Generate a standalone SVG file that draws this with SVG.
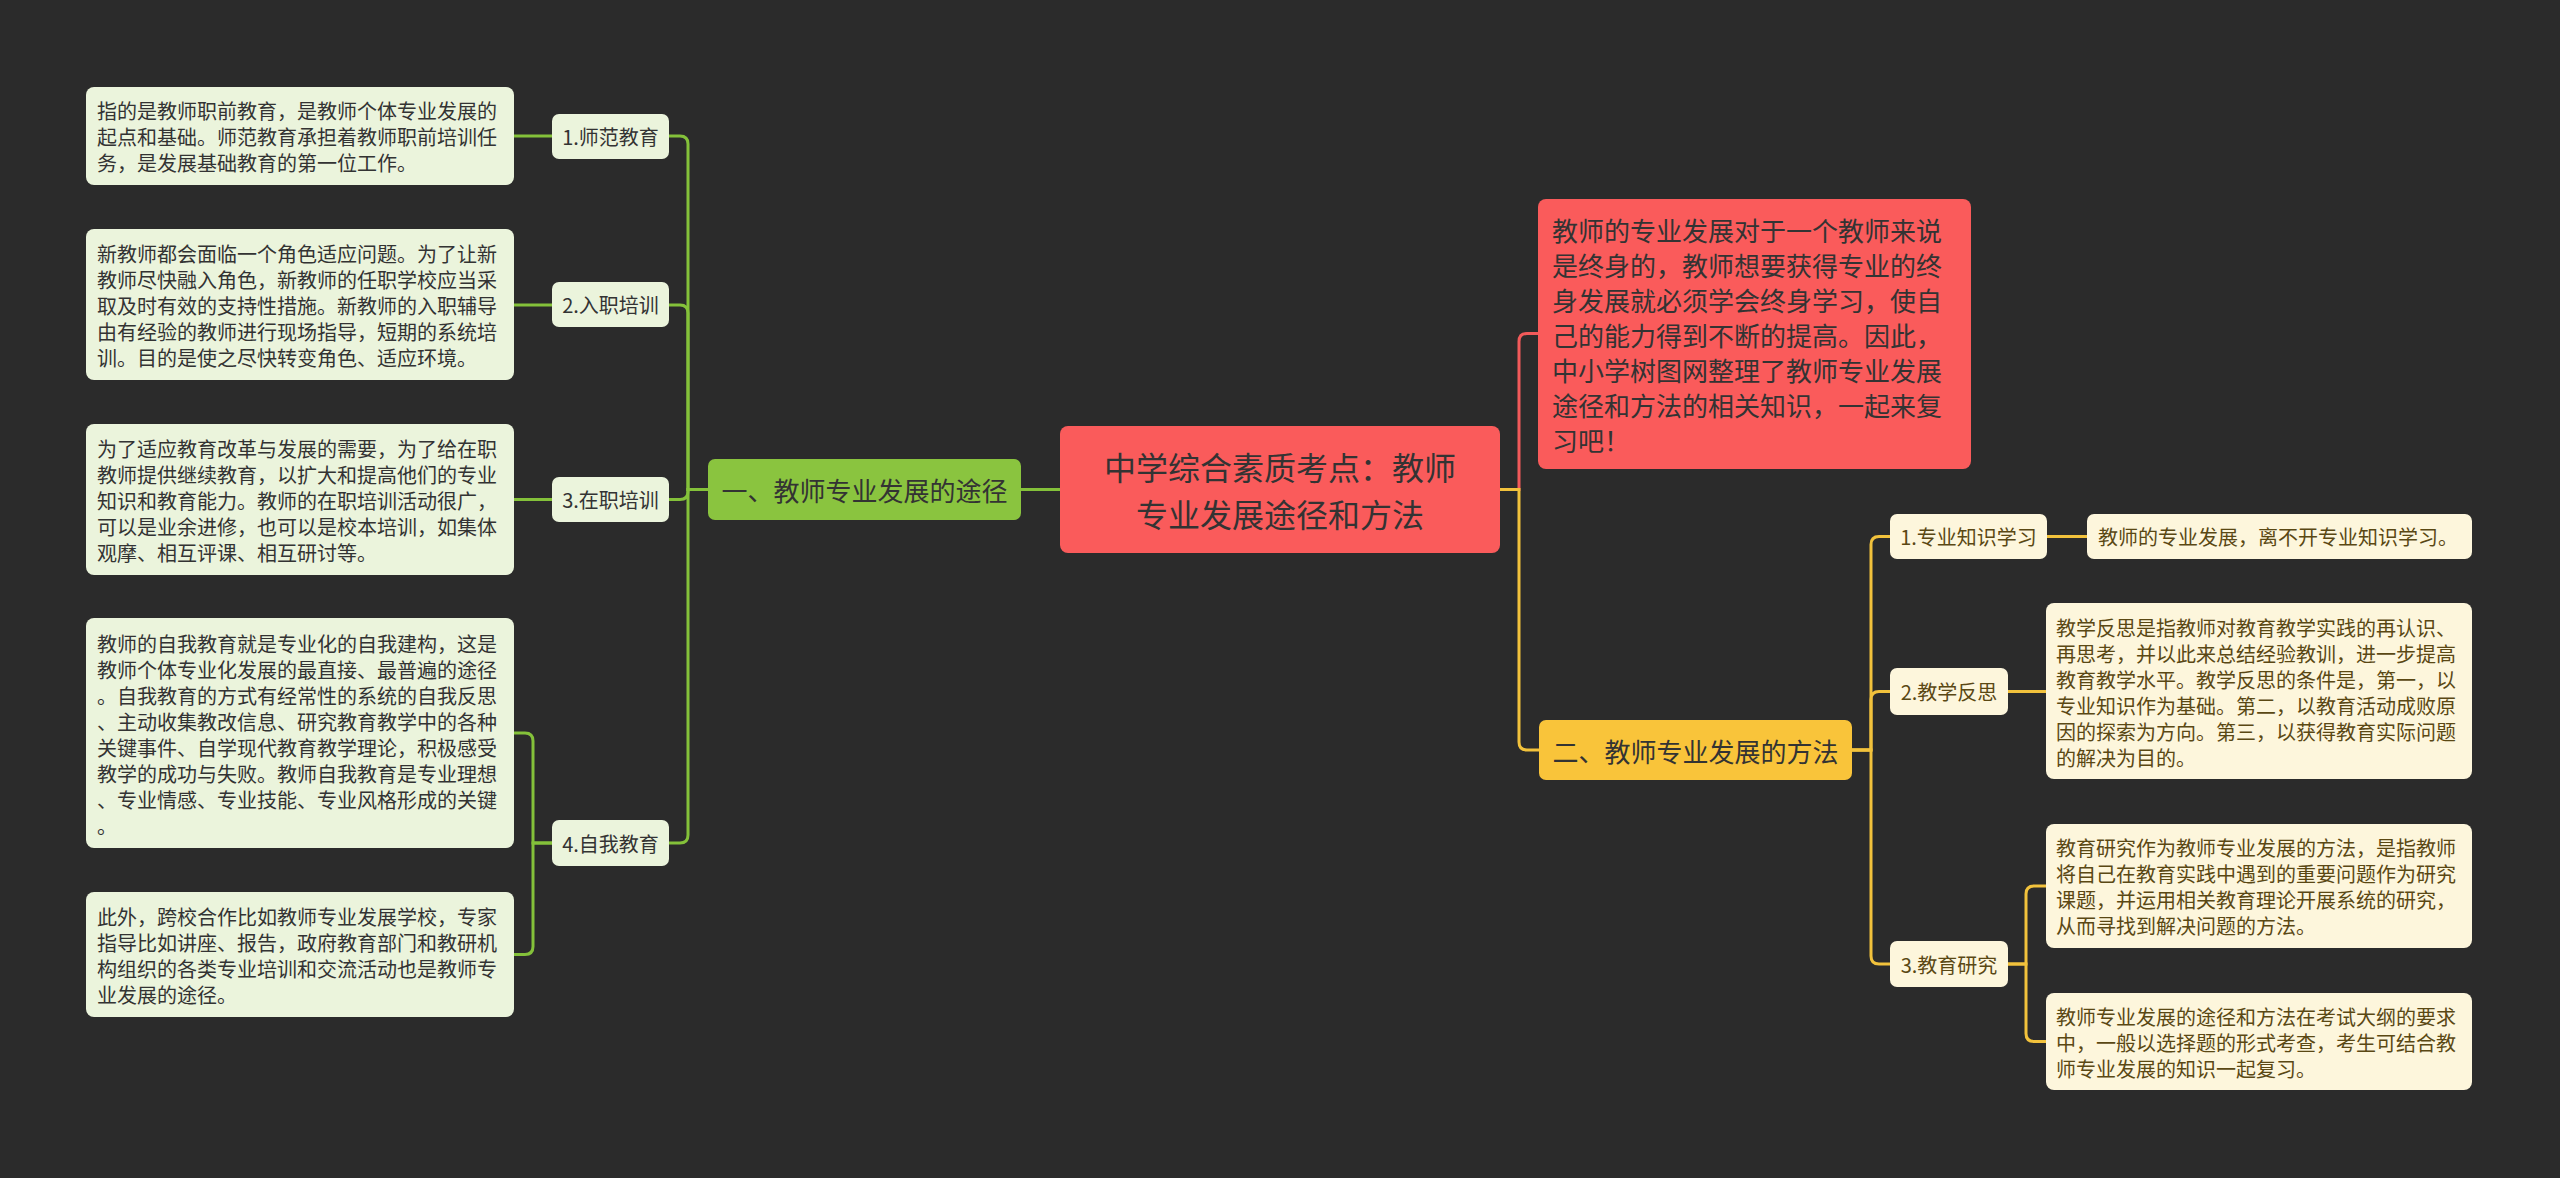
<svg xmlns="http://www.w3.org/2000/svg" width="2560" height="1178" viewBox="0 0 2560 1178">
<style>
text{font-family:"Noto Sans CJK SC","Noto Sans",sans-serif;dominant-baseline:central}
.lg{fill:#ebf4dc}
.ly{fill:#fdf6dc}
.t{font-size:20px;fill:#333}
.ty{font-size:20px;fill:#5a4814}
.c{text-anchor:middle}
.big{font-size:26px;fill:#333}
.cg{stroke:#84c13a;stroke-width:3;fill:none}
.cy{stroke:#f2c23c;stroke-width:3;fill:none}
.cr{stroke:#f25a5a;stroke-width:3;fill:none}
</style>
<rect width="2560" height="1178" fill="#2b2b2b"/>
<g id="connectors">
  <path class="cg" d="M1060 489.5H1021"/>
  <path class="cg" d="M708 489.5H688V144Q688 136 680 136H669"/>
  <path class="cg" d="M708 489.5H688V313Q688 305 680 305H669"/>
  <path class="cg" d="M708 489.5H688V491.5Q688 499.5 680 499.5H669"/>
  <path class="cg" d="M708 489.5H688V835Q688 843 680 843H669"/>
  <path class="cg" d="M552 136H514"/>
  <path class="cg" d="M552 305H514"/>
  <path class="cg" d="M552 499.5H514"/>
  <path class="cg" d="M552 843H533V741Q533 733 525 733H514"/>
  <path class="cg" d="M552 843H533V946.5Q533 954.5 525 954.5H514"/>
  <path class="cr" d="M1500 489.5H1519V341.5Q1519 333.5 1527 333.5H1538"/>
  <path class="cy" d="M1500 489.5H1519V742Q1519 750 1527 750H1539"/>
  <path class="cy" d="M1852 750H1871V544.5Q1871 536.5 1879 536.5H1890"/>
  <path class="cy" d="M1852 750H1871V699.5Q1871 691.5 1879 691.5H1890"/>
  <path class="cy" d="M1852 750H1871V956Q1871 964 1879 964H1890"/>
  <path class="cy" d="M2047 536.5H2087"/>
  <path class="cy" d="M2008 691.5H2046"/>
  <path class="cy" d="M2008 964H2026V894Q2026 886 2034 886H2046"/>
  <path class="cy" d="M2008 964H2026V1033.5Q2026 1041.5 2034 1041.5H2046"/>
</g>
<g id="root">
  <rect x="1060" y="426" width="440" height="127" rx="8" fill="#fa5b5b"/>
  <text class="c" font-size="32" fill="#333"><tspan x="1280" y="466">中学综合素质考点：教师</tspan><tspan x="1280" y="513">专业发展途径和方法</tspan></text>
</g>
<g id="intro">
  <rect x="1538" y="199" width="433" height="270" rx="8" fill="#fa5b5b"/>
  <text x="1552" font-size="26" fill="#333"><tspan x="1552" y="229">教师的专业发展对于一个教师来说</tspan><tspan x="1552" y="264">是终身的，教师想要获得专业的终</tspan><tspan x="1552" y="299">身发展就必须学会终身学习，使自</tspan><tspan x="1552" y="334">己的能力得到不断的提高。因此，</tspan><tspan x="1552" y="369">中小学树图网整理了教师专业发展</tspan><tspan x="1552" y="404">途径和方法的相关知识，一起来复</tspan><tspan x="1552" y="439">习吧！</tspan></text>
</g>
<g id="branch1">
  <rect x="708" y="459" width="313" height="61" rx="7" fill="#8ac43f"/>
  <text class="big c" x="864.5" y="489.5">一、教师专业发展的途径</text>
</g>
<g id="n1">
  <rect class="lg" x="552" y="114" width="117" height="45" rx="7"/>
  <text class="t c" x="610.5" y="136.5">1.师范教育</text>
</g>
<g id="n2">
  <rect class="lg" x="552" y="282" width="117" height="45" rx="7"/>
  <text class="t c" x="610.5" y="304.5">2.入职培训</text>
</g>
<g id="n3">
  <rect class="lg" x="552" y="477" width="117" height="45" rx="7"/>
  <text class="t c" x="610.5" y="499.5">3.在职培训</text>
</g>
<g id="n4">
  <rect class="lg" x="552" y="820" width="117" height="46" rx="7"/>
  <text class="t c" x="610.5" y="843">4.自我教育</text>
</g>
<g id="l1">
  <rect class="lg" x="86" y="87" width="428" height="98" rx="8"/>
  <text class="t"><tspan x="97" y="110">指的是教师职前教育，是教师个体专业发展的</tspan><tspan x="97" y="136">起点和基础。师范教育承担着教师职前培训任</tspan><tspan x="97" y="162">务，是发展基础教育的第一位工作。</tspan></text>
</g>
<g id="l2">
  <rect class="lg" x="86" y="229" width="428" height="151" rx="8"/>
  <text class="t"><tspan x="97" y="253">新教师都会面临一个角色适应问题。为了让新</tspan><tspan x="97" y="279">教师尽快融入角色，新教师的任职学校应当采</tspan><tspan x="97" y="305">取及时有效的支持性措施。新教师的入职辅导</tspan><tspan x="97" y="331">由有经验的教师进行现场指导，短期的系统培</tspan><tspan x="97" y="357">训。目的是使之尽快转变角色、适应环境。</tspan></text>
</g>
<g id="l3">
  <rect class="lg" x="86" y="424" width="428" height="151" rx="8"/>
  <text class="t"><tspan x="97" y="448">为了适应教育改革与发展的需要，为了给在职</tspan><tspan x="97" y="474">教师提供继续教育，以扩大和提高他们的专业</tspan><tspan x="97" y="500">知识和教育能力。教师的在职培训活动很广，</tspan><tspan x="97" y="526">可以是业余进修，也可以是校本培训，如集体</tspan><tspan x="97" y="552">观摩、相互评课、相互研讨等。</tspan></text>
</g>
<g id="l4">
  <rect class="lg" x="86" y="618" width="428" height="230" rx="8"/>
  <text class="t"><tspan x="97" y="643">教师的自我教育就是专业化的自我建构，这是</tspan><tspan x="97" y="669">教师个体专业化发展的最直接、最普遍的途径</tspan><tspan x="97" y="695">。自我教育的方式有经常性的系统的自我反思</tspan><tspan x="97" y="721">、主动收集教改信息、研究教育教学中的各种</tspan><tspan x="97" y="747">关键事件、自学现代教育教学理论，积极感受</tspan><tspan x="97" y="773">教学的成功与失败。教师自我教育是专业理想</tspan><tspan x="97" y="799">、专业情感、专业技能、专业风格形成的关键</tspan><tspan x="97" y="825">。</tspan></text>
</g>
<g id="l5">
  <rect class="lg" x="86" y="892" width="428" height="125" rx="8"/>
  <text class="t"><tspan x="97" y="916">此外，跨校合作比如教师专业发展学校，专家</tspan><tspan x="97" y="942">指导比如讲座、报告，政府教育部门和教研机</tspan><tspan x="97" y="968">构组织的各类专业培训和交流活动也是教师专</tspan><tspan x="97" y="994">业发展的途径。</tspan></text>
</g>
<g id="branch2">
  <rect x="1539" y="720" width="313" height="60" rx="7" fill="#f9c43a"/>
  <text class="big c" x="1695.5" y="750">二、教师专业发展的方法</text>
</g>
<g id="m1">
  <rect class="ly" x="1890" y="514" width="157" height="45" rx="7"/>
  <text class="ty c" x="1968.5" y="536.5">1.专业知识学习</text>
</g>
<g id="m2">
  <rect class="ly" x="1890" y="668" width="118" height="47" rx="7"/>
  <text class="ty c" x="1949" y="691.5">2.教学反思</text>
</g>
<g id="m3">
  <rect class="ly" x="1890" y="941" width="118" height="46" rx="7"/>
  <text class="ty c" x="1949" y="964">3.教育研究</text>
</g>
<g id="r1">
  <rect class="ly" x="2087" y="514" width="385" height="45" rx="7"/>
  <text class="ty" x="2098" y="536.5">教师的专业发展，离不开专业知识学习。</text>
</g>
<g id="r2">
  <rect class="ly" x="2046" y="603" width="426" height="176" rx="8"/>
  <text class="ty"><tspan x="2056" y="627">教学反思是指教师对教育教学实践的再认识、</tspan><tspan x="2056" y="653">再思考，并以此来总结经验教训，进一步提高</tspan><tspan x="2056" y="679">教育教学水平。教学反思的条件是，第一，以</tspan><tspan x="2056" y="705">专业知识作为基础。第二，以教育活动成败原</tspan><tspan x="2056" y="731">因的探索为方向。第三，以获得教育实际问题</tspan><tspan x="2056" y="757">的解决为目的。</tspan></text>
</g>
<g id="r3">
  <rect class="ly" x="2046" y="824" width="426" height="124" rx="8"/>
  <text class="ty"><tspan x="2056" y="847">教育研究作为教师专业发展的方法，是指教师</tspan><tspan x="2056" y="873">将自己在教育实践中遇到的重要问题作为研究</tspan><tspan x="2056" y="899">课题，并运用相关教育理论开展系统的研究，</tspan><tspan x="2056" y="925">从而寻找到解决问题的方法。</tspan></text>
</g>
<g id="r4">
  <rect class="ly" x="2046" y="993" width="426" height="97" rx="8"/>
  <text class="ty"><tspan x="2056" y="1016">教师专业发展的途径和方法在考试大纲的要求</tspan><tspan x="2056" y="1042">中，一般以选择题的形式考查，考生可结合教</tspan><tspan x="2056" y="1068">师专业发展的知识一起复习。</tspan></text>
</g>
</svg>
